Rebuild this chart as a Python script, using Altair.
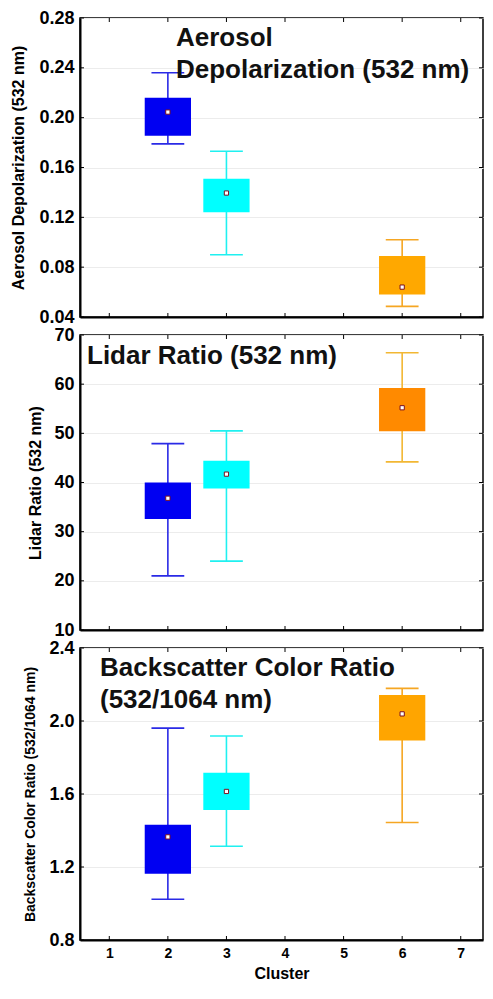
import altair as alt
import pandas as pd

FONT = "Liberation Sans"

clusters = [2, 3, 6]
x_ticks = [1, 2, 3, 4, 5, 6, 7]

# Panel 1: Aerosol depolarization (532 nm)
dep_lo = [0.179, 0.090, 0.0485]
dep_q1 = [0.1855, 0.124, 0.058]
dep_mid = [0.2045, 0.1395, 0.064]
dep_q3 = [0.216, 0.151, 0.089]
dep_hi = [0.236, 0.173, 0.102]
dep_box_colors = ["#0000f2", "#00ffff", "#ffa800"]
dep_line_colors = ["#2a2ae6", "#1ff0f0", "#f5a623"]
dep_ticks = [0.04, 0.08, 0.12, 0.16, 0.20, 0.24, 0.28]

# Panel 2: Lidar ratio (532 nm)
lr_lo = [21.0, 24.0, 44.2]
lr_q1 = [32.6, 38.8, 50.4]
lr_mid = [36.8, 41.7, 55.2]
lr_q3 = [40.0, 44.4, 59.2]
lr_hi = [47.9, 50.5, 66.4]
lr_box_colors = ["#0000f2", "#00ffff", "#ff8a00"]
lr_line_colors = ["#2a2ae6", "#1ff0f0", "#f2b733"]
lr_ticks = [10, 20, 30, 40, 50, 60, 70]

# Panel 3: Backscatter color ratio (532/1064 nm)
bcr_lo = [1.023, 1.314, 1.444]
bcr_q1 = [1.163, 1.512, 1.893]
bcr_mid = [1.365, 1.614, 2.039]
bcr_q3 = [1.431, 1.717, 2.143]
bcr_hi = [1.961, 1.918, 2.179]
bcr_box_colors = ["#0000f2", "#00ffff", "#ffa500"]
bcr_line_colors = ["#2a2ae6", "#1ff0f0", "#f5a623"]
bcr_ticks = [0.8, 1.2, 1.6, 2.0, 2.4]

W = 403
XDOM = [0.5, 7.38]


def panel(lo, q1, mid, q3, hi, box_colors, line_colors, yticks, fmt,
          ytitle, ytitle_size, ytitle_pad, title_lines, title_x, title_y,
          height, bottom):
    df = pd.DataFrame({"cluster": clusters, "lo": lo, "q1": q1, "mid": mid,
                       "q3": q3, "hi": hi, "box": box_colors, "line": line_colors})
    xs = alt.Scale(domain=XDOM, nice=False, zero=False)
    ys = alt.Scale(domain=[yticks[0], yticks[-1]], nice=False, zero=False)
    if bottom:
        xaxis = alt.Axis(values=x_ticks, format="d", title="Cluster", labelFontSize=14,
                         titleFontSize=16, labelPadding=6, titlePadding=5,
                         domainWidth=2, domainColor="black", ticks=False, grid=False)
    else:
        xaxis = alt.Axis(values=x_ticks, labels=False, title="", domainWidth=2,
                         domainColor="black", ticks=False, grid=False)
    yaxis = alt.Axis(values=yticks, format=fmt, title=ytitle, labelFontSize=18,
                     titleFontSize=ytitle_size, labelPadding=6, titlePadding=ytitle_pad,
                     domainWidth=2, domainColor="black", ticks=False, grid=True,
                     gridColor="#ececec", gridWidth=1)

    def X(f):
        return alt.X(f, type="quantitative", scale=xs, axis=xaxis)

    def Y(f):
        return alt.Y(f, type="quantitative", scale=ys, axis=yaxis)

    base = alt.Chart(df)
    whisk = base.mark_rule(strokeWidth=1.6).encode(
        x=X("cluster"), y=Y("lo"), y2="hi",
        color=alt.Color("line:N", scale=None),
    )
    caps = base.transform_calculate(
        xa="datum.cluster - 0.28", xb="datum.cluster + 0.28"
    )
    cap_lo = caps.mark_rule(strokeWidth=1.6).encode(
        x=X("xa"), x2="xb", y=Y("lo"), color=alt.Color("line:N", scale=None))
    cap_hi = caps.mark_rule(strokeWidth=1.6).encode(
        x=X("xa"), x2="xb", y=Y("hi"), color=alt.Color("line:N", scale=None))
    box = base.transform_calculate(
        xa="datum.cluster - 0.395", xb="datum.cluster + 0.395"
    ).mark_rect().encode(
        x=X("xa"), x2="xb", y=Y("q1"), y2="q3",
        color=alt.Color("box:N", scale=None),
    )
    midpt = base.mark_square(size=18, fill="white", stroke="#7a1020",
                             strokeWidth=1, opacity=1).encode(
        x=X("cluster"), y=Y("mid"))
    xt = alt.Chart(pd.DataFrame({"t": x_ticks}))
    yt = alt.Chart(pd.DataFrame({"t": yticks}))
    tick_top = xt.mark_rule(color="black", strokeWidth=1).encode(
        x=X("t"), y=alt.value(0), y2=alt.value(4))
    tick_bot = xt.mark_rule(color="black", strokeWidth=1).encode(
        x=X("t"), y=alt.value(height), y2=alt.value(height - 4))
    tick_left = yt.mark_rule(color="black", strokeWidth=1).encode(
        y=Y("t"), x=alt.value(0), x2=alt.value(4))
    tick_right = yt.mark_rule(color="black", strokeWidth=1).encode(
        y=Y("t"), x=alt.value(W), x2=alt.value(W - 4))
    title = alt.Chart(pd.DataFrame({"t": [0]})).mark_text(
        text=title_lines, align="left", baseline="alphabetic", fontSize=26,
        fontWeight="bold", font=FONT, color="#111111", lineHeight=32,
    ).encode(x=alt.value(title_x), y=alt.value(title_y))
    return alt.layer(whisk, cap_lo, cap_hi, box, midpt, tick_top, tick_bot,
                     tick_left, tick_right, title).properties(width=W, height=height)


p1 = panel(dep_lo, dep_q1, dep_mid, dep_q3, dep_hi, dep_box_colors, dep_line_colors,
           dep_ticks, ".2f", "Aerosol Depolarization (532 nm)", 16, 12,
           ["Aerosol", "Depolarization (532 nm)"], 96, 28, 299, False)
p2 = panel(lr_lo, lr_q1, lr_mid, lr_q3, lr_hi, lr_box_colors, lr_line_colors,
           lr_ticks, "d", "Lidar Ratio (532 nm)", 16, 10,
           ["Lidar Ratio (532 nm)"], 7, 29, 295, False)
p3 = panel(bcr_lo, bcr_q1, bcr_mid, bcr_q3, bcr_hi, bcr_box_colors, bcr_line_colors,
           bcr_ticks, ".1f", "Backscatter Color Ratio (532/1064 nm)", 14, 11,
           ["Backscatter Color Ratio", "(532/1064 nm)"], 20, 28, 292, True)

chart = alt.vconcat(
    p1, p2, p3, spacing=18, bounds="flush", background="white",
    padding={"left": 2, "top": 0, "right": 0, "bottom": 0},
).configure_view(
    stroke="black", strokeWidth=1.5
).configure_axis(
    labelFont=FONT, titleFont=FONT, labelFontWeight="bold", titleFontWeight="bold",
    labelColor="black", titleColor="black"
)

chart.save("out.html", embed_options={"renderer": "svg", "actions": False})
